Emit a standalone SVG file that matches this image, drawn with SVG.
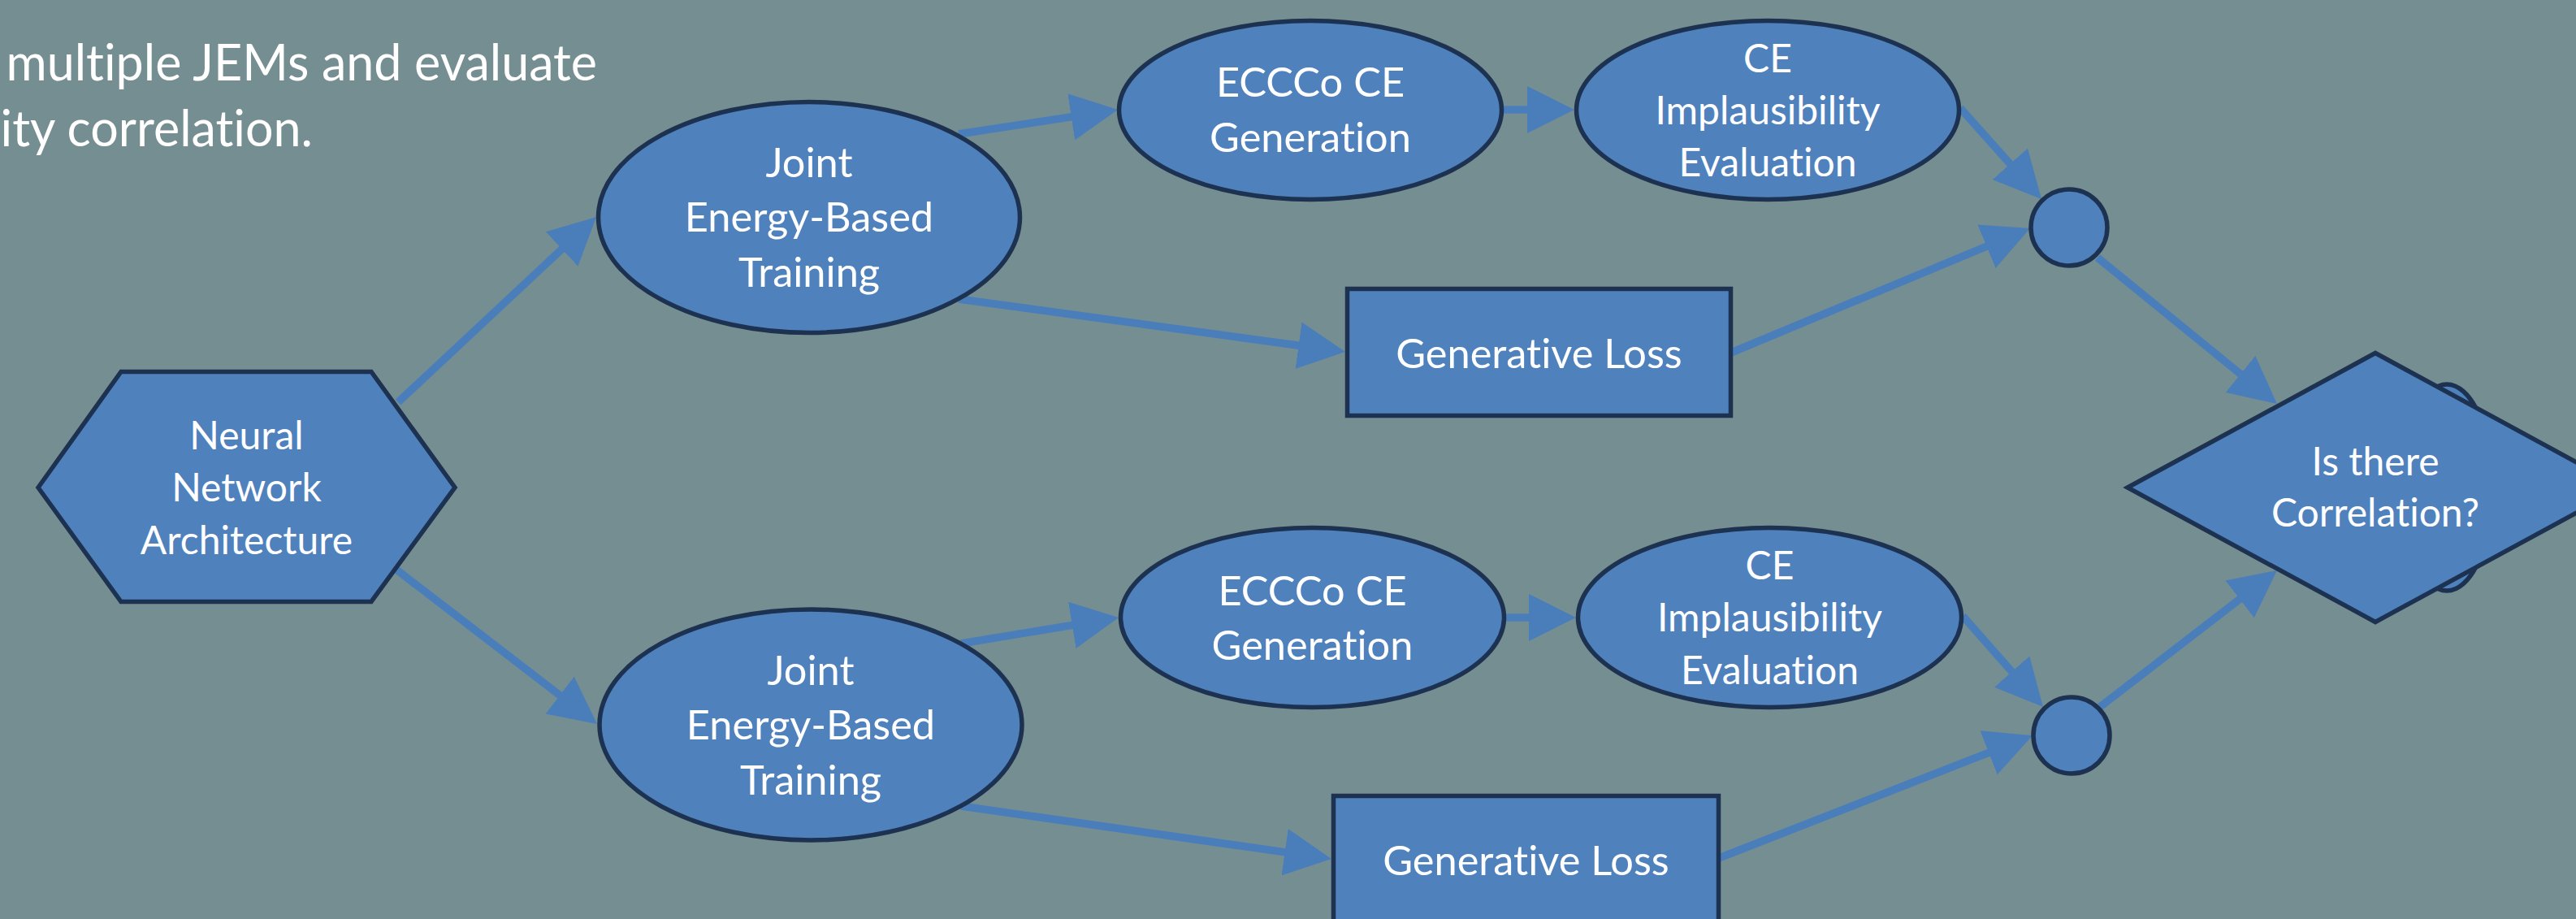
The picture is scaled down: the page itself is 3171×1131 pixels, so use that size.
<svg xmlns="http://www.w3.org/2000/svg" width="3171" height="1131" viewBox="0 0 3171 1131">
<style>
.bg{fill:#758e92}
.node{fill:#4f81bd;stroke:#1c3250;stroke-width:5.5}
.t{font-family:Lato,"Open Sans","Liberation Sans",sans-serif;fill:#ffffff;text-anchor:middle;font-variant-ligatures:none;font-feature-settings:"liga" 0,"clig" 0}
.s52{font-size:48px}
.s55{font-size:50.5px}
.title{font-family:Lato,"Open Sans","Liberation Sans",sans-serif;fill:#ffffff;font-size:61px;text-anchor:end;font-variant-ligatures:none;font-feature-settings:"liga" 0,"clig" 0}
.c{fill:none;stroke:#4a7ebb;stroke-width:9.5;marker-end:url(#ah)}
</style>
<defs>
<marker id="ah" viewBox="0 0 10 10" markerWidth="6.1" markerHeight="6.1" refX="1.38" refY="5" orient="auto" markerUnits="strokeWidth">
<path d="M0,0 L10,5 L0,10 z" fill="#4a7ebb"/>
</marker>
</defs>
<rect class="bg" x="0" y="0" width="3171" height="1131"/>
<g id="title">
<text class="title" x="735" y="99">multiple JEMs and evaluate</text>
<text class="title" x="385" y="180">ity correlation.</text>
</g>
<g id="connectors">
<line class="c" x1="490" y1="495" x2="697.5" y2="301.1"/>
<line class="c" x1="488" y1="701" x2="695.4" y2="860.5"/>
<line class="c" x1="1180" y1="165" x2="1326.6" y2="142.6"/>
<line class="c" x1="1851" y1="135" x2="1888" y2="135"/>
<line class="c" x1="2413" y1="133" x2="2479.7" y2="207.7"/>
<line class="c" x1="1180" y1="368" x2="1606.5" y2="426.2"/>
<line class="c" x1="2131" y1="434" x2="2452.8" y2="300.2"/>
<line class="c" x1="2582" y1="317" x2="2764.2" y2="465.4"/>
<line class="c" x1="1183" y1="792" x2="1327.7" y2="768.1"/>
<line class="c" x1="1854" y1="760" x2="1890" y2="760"/>
<line class="c" x1="2416" y1="758" x2="2481.9" y2="832.6"/>
<line class="c" x1="1183" y1="992" x2="1589.5" y2="1049.9"/>
<line class="c" x1="2116" y1="1056" x2="2455.5" y2="923.4"/>
<line class="c" x1="2585" y1="870" x2="2763.4" y2="732.5"/>
</g>
<g id="neural-network-architecture">
<polygon class="node" points="47,600 149,457.5 457,457.5 560,600 457,740.5 149,740.5"/>
<text class="t s52" x="303.5" y="553">Neural</text>
<text class="t s52" x="303.5" y="617">Network</text>
<text class="t s52" x="303.5" y="682">Architecture</text>
</g>
<g id="jem-training-1">
<ellipse class="node" cx="996" cy="267.5" rx="259.5" ry="142"/>
<text class="t s55" x="996" y="218">Joint</text>
<text class="t s55" x="996" y="285">Energy-Based</text>
<text class="t s55" x="996" y="353">Training</text>
</g>
<g id="jem-training-2">
<ellipse class="node" cx="998" cy="892" rx="260" ry="142"/>
<text class="t s55" x="998" y="843">Joint</text>
<text class="t s55" x="998" y="910">Energy-Based</text>
<text class="t s55" x="998" y="978">Training</text>
</g>
<g id="eccco-generation-1">
<ellipse class="node" cx="1613" cy="135.5" rx="235.5" ry="110"/>
<text class="t s55" x="1613" y="119">ECCCo CE</text>
<text class="t s55" x="1613" y="187">Generation</text>
</g>
<g id="eccco-generation-2">
<ellipse class="node" cx="1615.5" cy="760" rx="236" ry="110.5"/>
<text class="t s55" x="1615.5" y="745">ECCCo CE</text>
<text class="t s55" x="1615.5" y="812">Generation</text>
</g>
<g id="ce-implausibility-1">
<ellipse class="node" cx="2176" cy="135.5" rx="235.5" ry="110"/>
<text class="t s52" x="2176" y="89">CE</text>
<text class="t s52" x="2176" y="153">Implausibility</text>
<text class="t s52" x="2176" y="217">Evaluation</text>
</g>
<g id="ce-implausibility-2">
<ellipse class="node" cx="2178.5" cy="760" rx="236" ry="110.5"/>
<text class="t s52" x="2178.5" y="713">CE</text>
<text class="t s52" x="2178.5" y="777">Implausibility</text>
<text class="t s52" x="2178.5" y="842">Evaluation</text>
</g>
<g id="generative-loss-1">
<rect class="node" x="1658.5" y="355.5" width="472" height="156"/>
<text class="t s55" x="1894.5" y="453">Generative Loss</text>
</g>
<g id="generative-loss-2">
<rect class="node" x="1641.5" y="979.5" width="474" height="156"/>
<text class="t s55" x="1878.5" y="1077">Generative Loss</text>
</g>
<g id="join-1">
<circle class="node" cx="2547" cy="280" r="47"/>
</g>
<g id="join-2">
<circle class="node" cx="2550" cy="905" r="47"/>
</g>
<g id="correlation-decision">
<ellipse class="node" cx="3012" cy="600" rx="56" ry="127" stroke-width="8"/>
<polygon class="node" points="2619,600 2924,434.5 3229,600 2924,765.5"/>
<text class="t s52" x="2924" y="585">Is there</text>
<text class="t s52" x="2924" y="648">Correlation?</text>
</g>
</svg>
